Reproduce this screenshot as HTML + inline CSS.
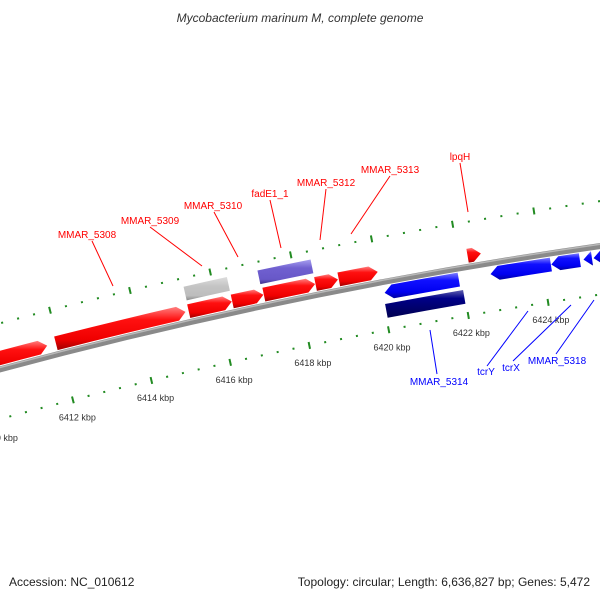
<!DOCTYPE html>
<html><head><meta charset="utf-8">
<style>
html,body{margin:0;padding:0;background:#fff;}
svg{display:block;font-family:"Liberation Sans",sans-serif;}
</style></head>
<body>
<svg id="chart" width="600" height="600" viewBox="0 0 600 600">
<defs>
<linearGradient id="gRed" x1="0" y1="0" x2="0" y2="1"><stop offset="0" stop-color="#ff8080"/><stop offset="0.3" stop-color="#ff1010"/><stop offset="0.75" stop-color="#f00000"/><stop offset="1" stop-color="#a00000"/></linearGradient>
<linearGradient id="gBlue" x1="0" y1="0" x2="0" y2="1"><stop offset="0" stop-color="#8080ff"/><stop offset="0.3" stop-color="#1010ff"/><stop offset="0.75" stop-color="#0000f0"/><stop offset="1" stop-color="#0000a0"/></linearGradient>
<linearGradient id="gNavy" x1="0" y1="0" x2="0" y2="1"><stop offset="0" stop-color="#6060b0"/><stop offset="0.3" stop-color="#000088"/><stop offset="1" stop-color="#000050"/></linearGradient>
<linearGradient id="gGray" x1="0" y1="0" x2="0" y2="1"><stop offset="0" stop-color="#dddddd"/><stop offset="0.4" stop-color="#c4c4c4"/><stop offset="0.8" stop-color="#bdbdbd"/><stop offset="1" stop-color="#888"/></linearGradient>
<linearGradient id="gPurple" x1="0" y1="0" x2="0" y2="1"><stop offset="0" stop-color="#a8a0f0"/><stop offset="0.35" stop-color="#7060d0"/><stop offset="0.8" stop-color="#6858c8"/><stop offset="1" stop-color="#40308a"/></linearGradient>
</defs>
<text x="300" y="22" text-anchor="middle" font-size="12" font-style="italic" fill="#333">Mycobacterium marinum M, complete genome</text>
<g id="ticks"></g>
<g id="backbone"></g>
<g id="genes"></g>
<g id="labels"></g>
<text x="9" y="586" font-size="12" fill="#222">Accession: NC_010612</text>
<text x="590" y="586" text-anchor="end" font-size="12" fill="#222">Topology: circular; Length: 6,636,827 bp; Genes: 5,472</text>
</svg>
<script>
// ---- data ----
const geneNames = ["gene-left","MMAR_5308","MMAR_5309","MMAR_5310","fadE1_1","MMAR_5312","MMAR_5313","lpqH","gray-feature","purple-feature","MMAR_5314","tcrY","tcrX","blue-small","MMAR_5318","MMAR_5314-b"];
const geneStart = [6410.0,6411.94,6415.28,6416.37,6417.16,6418.45,6419.03,6422.23,6415.29,6417.13,6420.07,6422.71,6424.22,6425.02,6425.27,6420.03];
const geneEnd   = [6411.72,6415.20,6416.36,6417.15,6418.44,6419.01,6420.00,6422.56,6416.37,6418.45,6421.92,6424.21,6424.93,6425.23,6427.0,6421.98];
const geneStrand= [1,1,1,1,1,1,1,1,0,0,-1,-1,-1,-1,-1,0];
const geneRow   = [1,1,1,1,1,1,1,1,2,2,-1,-1,-1,-1,-1,-2];
const geneFill  = ["gRed","gRed","gRed","gRed","gRed","gRed","gRed","gRed","gGray","gPurple","gBlue","gBlue","gBlue","gBlue","gBlue","gNavy"];
const majorTicks = [6410,6412,6414,6416,6418,6420,6422,6424,6426,6428];
const tickLabels = ["6410 kbp","6412 kbp","6414 kbp","6416 kbp","6418 kbp","6420 kbp","6422 kbp","6424 kbp","6426 kbp","6428 kbp"];
const minorStep = 0.4;
const labelText = ["MMAR_5308","MMAR_5309","MMAR_5310","fadE1_1","MMAR_5312","MMAR_5313","lpqH","MMAR_5314","tcrY","tcrX","MMAR_5318"];
const labelColor= ["red","red","red","red","red","red","red","blue","blue","blue","blue"];

// ---- layout ----
const CX=1328, CY=5310, R=5116;
function phi(k){return -0.2343+(k-6414)*0.00798;}
function pt(k,dr){const a=phi(k), r=R+dr; return [CX+r*Math.sin(a), CY-r*Math.cos(a)];}
function f(p){return p[0].toFixed(2)+" "+p[1].toFixed(2);}
const NS="http://www.w3.org/2000/svg";
function mk(tag,attrs,parent){const e=document.createElementNS(NS,tag);for(const k in attrs)e.setAttribute(k,attrs[k]);parent.appendChild(e);return e;}

// backbone
const bb=document.getElementById("backbone");
const bbPath=mk("path",{d:"M"+f(pt(6408,0))+" A"+R+" "+R+" 0 0 1 "+f(pt(6430,0)),stroke:"#8a8a8a","stroke-width":6,fill:"none"},bb);


const bbHi=mk("path",{d:"M"+f(pt(6408,1.8))+" A"+(R+1.8)+" "+(R+1.8)+" 0 0 1 "+f(pt(6430,1.8)),stroke:"#b8b8b8","stroke-width":1.5,fill:"none"},bb);



// ticks
const tg=document.getElementById("ticks");
const ringOff=[44.5,-48];
for(let k=6408;k<=6430.001;k+=minorStep){
  const kk=Math.round(k*10)/10;
  const major=majorTicks.some(m=>Math.abs(m-kk)<1e-6);
  ringOff.forEach((o,ri)=>{
    const len=major?3.5:1;
    const a=pt(kk,o-len), b=pt(kk,o+len);
    const t=mk("line",{x1:a[0],y1:a[1],x2:b[0],y2:b[1],stroke:"#228b22","stroke-width":2},tg);
    
    
  });
}
majorTicks.forEach((m,i)=>{
  const p=pt(m,-66);
  const t=mk("text",{x:p[0],y:p[1]+3,"text-anchor":"middle","font-size":9,fill:"#333"},tg);
  t.textContent=tickLabels[i];
  
  
});

// genes
const gg=document.getElementById("genes");
const rowIn={1:4,2:22,"-1":-4,"-2":-22};
const rowOut={1:18,2:36,"-1":-18,"-2":-36};
const AH=0.2;
geneStart.forEach((s,i)=>{
  const e=geneEnd[i], row=geneRow[i];
  const o=Math.max(rowIn[row],rowOut[row]), n=Math.min(rowIn[row],rowOut[row]), mid=(o+n)/2;
  const ro=R+o, rn=R+n;
  let d;
  const st=geneStrand[i];
  const ah=Math.min(AH,(e-s));
  if(st===1){
    const b=e-ah;
    d="M"+f(pt(s,o))+" A"+ro+" "+ro+" 0 0 1 "+f(pt(b,o))+" L"+f(pt(e,mid))+" L"+f(pt(b,n))+" A"+rn+" "+rn+" 0 0 0 "+f(pt(s,n))+" Z";
  } else if(st===-1){
    const b=s+ah;
    d="M"+f(pt(s,mid))+" L"+f(pt(b,o))+" A"+ro+" "+ro+" 0 0 1 "+f(pt(e,o))+" L"+f(pt(e,n))+" A"+rn+" "+rn+" 0 0 0 "+f(pt(b,n))+" Z";
  } else {
    d="M"+f(pt(s,o))+" A"+ro+" "+ro+" 0 0 1 "+f(pt(e,o))+" L"+f(pt(e,n))+" A"+rn+" "+rn+" 0 0 0 "+f(pt(s,n))+" Z";
  }
  const p=mk("path",{d:d,fill:"url(#"+geneFill[i]+")"},gg);
  
  
});

// labels
const lg=document.getElementById("labels");
const labTx=[[87,238],[150,224],[213,209],[270,197],[326,186],[390,173],[460,160],[439,385],[486,375],[511,371],[557,364]];
const labLine=[[92,241,113,286],[150,227,202,266],[214,212,238,257],[270,200,281,248],[326,189,320,240],[390,176,351,234],[460,163,468,212],[430,330,437,374],[528,311,487,366],[571,305,513,361],[594,300,556,354]];
labelText.forEach((t,i)=>{
  const L=labLine[i];
  const ln=mk("line",{x1:L[0],y1:L[1],x2:L[2],y2:L[3],stroke:labelColor[i],"stroke-width":1},lg);
  
  
  const tx=mk("text",{x:labTx[i][0],y:labTx[i][1],"text-anchor":"middle","font-size":10,fill:labelColor[i]},lg);
  tx.textContent=t;
  
  
});
</script>
</body></html>
